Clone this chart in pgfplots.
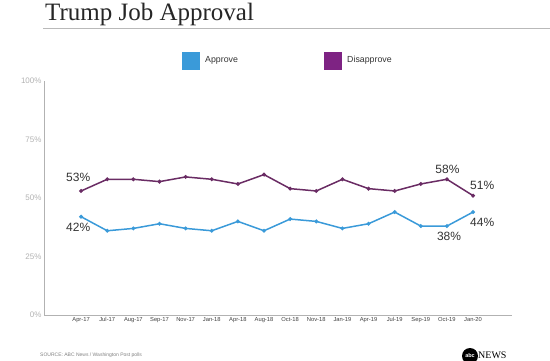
\documentclass[border=0pt]{standalone}
\usepackage{fontspec}
\setmainfont{Liberation Sans}
\newfontfamily\titlefont{Liberation Serif}
\usepackage{pgfplots}
\pgfplotsset{compat=1.18}
\definecolor{appblue}{HTML}{3A9AD9}
\definecolor{dispurp}{HTML}{6A2C64}
\definecolor{legpurp}{HTML}{7E2383}
\definecolor{txtgray}{HTML}{333333}

\pgfplotstableread{
x approve disapprove
0 42 53
1 36 58
2 37 58
3 39 57
4 37 59
5 36 58
6 40 56
7 36 60
8 41 54
9 40 53
10 37 58
11 39 54
12 44 53
13 38 56
14 38 58
15 44 51
}\polls

\begin{document}
\begin{tikzpicture}
\node[anchor=base west, font=\titlefont\fontsize{25}{25}\selectfont, text=black!85, inner sep=0] at (45pt,340pt) {Trump Job Approval};
\draw[gray!55, line width=0.9pt] (43pt,332pt) -- (550pt,332pt);
% legend
\fill[appblue] (182pt,290pt) rectangle (200pt,308pt);
\node[anchor=west, font=\fontsize{8.8}{10}\selectfont, text=txtgray, inner sep=0] at (205pt,300pt) {Approve};
\fill[legpurp] (324pt,290pt) rectangle (342pt,308pt);
\node[anchor=west, font=\fontsize{8.8}{10}\selectfont, text=txtgray, inner sep=0] at (347pt,300pt) {Disapprove};
% source
\node[anchor=west, font=\fontsize{5}{6}\selectfont, text=gray, inner sep=0] at (40pt,5pt) {SOURCE: ABC News / Washington Post polls};
% logo
\fill[black] (470pt,4pt) circle (8pt);
\node[font=\fontsize{5.5}{6}\selectfont\bfseries, text=white, inner sep=0] at (470pt,4pt) {abc};
\node[anchor=base west, font=\titlefont\fontsize{10}{10}\selectfont, inner sep=0] at (478pt,1.5pt) {NEWS};

\begin{axis}[
  at={(44pt,45pt)}, anchor=south west,
  scale only axis, width=468pt, height=234pt,
  xmin=-1.42, xmax=16.49, ymin=0, ymax=100,
  axis x line*=bottom, axis y line*=left,
  axis line style={gray!60, line width=0.9pt},
  tick style={draw=none},
  xtick=data,
  xticklabels={Apr-17,Jul-17,Aug-17,Sep-17,Nov-17,Jan-18,Apr-18,Aug-18,Oct-18,Nov-18,Jan-19,Apr-19,Jul-19,Sep-19,Oct-19,Jan-20},
  ytick={0,25,50,75,100},
  yticklabels={0\%,25\%,50\%,75\%,100\%},
  x tick label style={font=\fontsize{5.8}{6}\selectfont, text=black!75, yshift=1pt},
  y tick label style={font=\fontsize{8}{9}\selectfont, text=gray!60, xshift=1pt},
  /pgf/number format/assume math mode=true,
  clip=false,
]
\addplot[color=appblue, line width=1.5pt, mark=*, mark size=1.1pt] table[x=x, y=approve] {\polls};
\addplot[color=dispurp, line width=1.5pt, mark=*, mark size=1.1pt] table[x=x, y=disapprove] {\polls};
\node[font=\fontsize{12}{12}\selectfont, text=txtgray] at (axis cs:-0.11,59) {53\%};
\node[font=\fontsize{12}{12}\selectfont, text=txtgray] at (axis cs:-0.11,37.5) {42\%};
\node[font=\fontsize{12}{12}\selectfont, text=txtgray] at (axis cs:14.02,62.4) {58\%};
\node[font=\fontsize{12}{12}\selectfont, text=txtgray] at (axis cs:15.35,55.6) {51\%};
\node[font=\fontsize{12}{12}\selectfont, text=txtgray] at (axis cs:14.08,33.5) {38\%};
\node[font=\fontsize{12}{12}\selectfont, text=txtgray] at (axis cs:15.35,39.4) {44\%};
\end{axis}
\pgfresetboundingbox
\path[use as bounding box] (0pt,0pt) rectangle (550pt,360pt);
\end{tikzpicture}
\end{document}
